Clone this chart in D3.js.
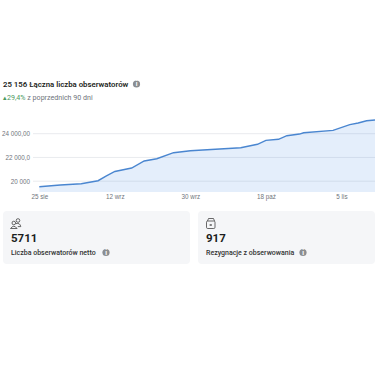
<!DOCTYPE html>
<html>
<head>
<meta charset="utf-8">
<style>
  html, body { margin: 0; padding: 0; background: #fff; }
  svg { display: block; font-family: Roboto, "Noto Sans", sans-serif; }
  .tick text { fill: #70757c; font-size: 6.3px; }
</style>
</head>
<body>
<div id="chart"></div>
<script src="https://cdn.jsdelivr.net/npm/d3@7"></script>
<script>
const dates = ['2023-08-25', '2023-08-30', '2023-09-04', '2023-09-08', '2023-09-10', '2023-09-12',
    '2023-09-16', '2023-09-19', '2023-09-22', '2023-09-26', '2023-09-30', '2023-10-04', '2023-10-07',
    '2023-10-12', '2023-10-16', '2023-10-18', '2023-10-21', '2023-10-23', '2023-10-26', '2023-10-27',
    '2023-11-03', '2023-11-07', '2023-11-09', '2023-11-11', '2023-11-13'];
const followers = [19537, 19680, 19790, 20040, 20440, 20820,
    21110, 21700, 21890, 22400, 22570, 22650, 22710,
    22820, 23110, 23440, 23530, 23830, 23970, 24080,
    24280, 24760, 24900, 25090, 25156];
const xTickDates = ['2023-08-25', '2023-09-12', '2023-09-30', '2023-10-18', '2023-11-05'];
const xTickLabels = ['25 sie', '12 wrz', '30 wrz', '18 paź', '5 lis'];
const yTicks = [20000, 22000, 24000];
const yTickLabels = ['20 000', '22 000,0', '24 000,00'];

const parseDate = d3.utcParse('%Y-%m-%d');
const dataset = dates.map((d, i) => ({ date: parseDate(d), value: followers[i] }));

const width = 375, height = 375;
const svg = d3.select('#chart').append('svg')
    .attr('width', width)
    .attr('height', height);

// Scales
const xScale = d3.scaleUtc()
    .domain(d3.extent(dataset, d => d.date))
    .range([39.3, 375]);
const yScale = d3.scaleLinear()
    .domain([20000, 24000])
    .range([181.2, 133.7]);
const baseline = 192;

// Axes
const yAxis = d3.axisLeft(yScale)
    .tickValues(yTicks)
    .tickSize(0)
    .tickPadding(3)
    .tickFormat((d, i) => yTickLabels[i]);
const yAxisGroup = svg.append('g')
    .attr('transform', 'translate(33, 0)')
    .call(yAxis);
yAxisGroup.select('.domain').remove();

svg.append('g').selectAll('line')
    .data(yTicks)
    .join('line')
    .attr('x1', 33)
    .attr('x2', width)
    .attr('y1', d => yScale(d))
    .attr('y2', d => yScale(d))
    .attr('stroke', '#e9ebee')
    .attr('stroke-width', 1);

const xAxis = d3.axisBottom(xScale)
    .tickValues(xTickDates.map(parseDate))
    .tickSize(0)
    .tickPadding(3)
    .tickFormat((d, i) => xTickLabels[i]);
const xAxisGroup = svg.append('g')
    .attr('transform', `translate(0, ${baseline})`)
    .call(xAxis);
xAxisGroup.select('.domain').remove();

// Area + line
const area = d3.area()
    .x(d => xScale(d.date))
    .y0(baseline)
    .y1(d => yScale(d.value));
svg.append('path')
    .datum(dataset)
    .attr('d', area)
    .attr('fill', '#4a90e2')
    .attr('fill-opacity', 0.15);

const line = d3.line()
    .x(d => xScale(d.date))
    .y(d => yScale(d.value));
svg.append('path')
    .datum(dataset)
    .attr('d', line)
    .attr('fill', 'none')
    .attr('stroke', '#4a86d0')
    .attr('stroke-width', 1.4);

// Header
const infoIcon = (x, y) => {
    svg.append('circle').attr('cx', x).attr('cy', y).attr('r', 3.6).attr('fill', '#8a8d91');
    svg.append('text').attr('x', x).attr('y', y + 2.3).attr('text-anchor', 'middle')
        .attr('font-size', 6.5).attr('font-weight', 700).attr('fill', '#fff').text('i');
};

svg.append('text')
    .attr('x', 3).attr('y', 87)
    .attr('font-size', 7.8).attr('font-weight', 600).attr('fill', '#1c1e21')
    .text('25 156 Łączna liczba obserwatorów');
infoIcon(136.5, 84);

const change = svg.append('text')
    .attr('x', 3).attr('y', 100)
    .attr('font-size', 7.1).attr('fill', '#70757c');
change.append('tspan').attr('fill', '#4c9a5f').text('▴29,4%');
change.append('tspan').text(' z poprzednich 90 dni');

// Cards
const cards = [
    { x: 3, w: 187, value: '5711', label: 'Liczba obserwatorów netto', info: 106, icon: 'people' },
    { x: 198, w: 177, value: '917', label: 'Rezygnacje z obserwowania', info: 303, icon: 'box' }
];

cards.forEach(c => {
    const g = svg.append('g');
    g.append('rect')
        .attr('x', c.x).attr('y', 211).attr('width', c.w).attr('height', 53)
        .attr('rx', 4).attr('fill', '#f5f6f8');
    const tx = c.x + 8;
    g.append('text').attr('x', tx).attr('y', 242)
        .attr('font-size', 11.5).attr('font-weight', 700).attr('fill', '#1c1e21').text(c.value);
    g.append('text').attr('x', tx).attr('y', 255)
        .attr('font-size', 7).attr('font-weight', 500).attr('fill', '#333').text(c.label);
    infoIcon(c.info, 252.5);

    const ic = g.append('g')
        .attr('fill', 'none').attr('stroke', '#444').attr('stroke-width', 0.8);
    if (c.icon === 'people') {
        ic.append('circle').attr('cx', tx + 7).attr('cy', 220.5).attr('r', 1.8);
        ic.append('circle').attr('cx', tx + 2.8).attr('cy', 223).attr('r', 1.8);
        ic.append('path').attr('d', `M${tx - 0.5} 228.5 q3.3 -4.5 6.6 0 z`);
        ic.append('path').attr('d', `M${tx + 5} 223.6 q4 -1 4.8 3 h-3`);
    } else {
        ic.append('rect').attr('x', tx + 0.5).attr('y', 221).attr('width', 8.5).attr('height', 7.5).attr('rx', 1.2);
        ic.append('path').attr('d', `M${tx + 1.5} 221 l1 -2.5 h5 l1 2.5`);
        ic.append('path').attr('d', `M${tx + 3.7} 224 l2 2 m0 -2 l-2 2`);
    }
});
</script>
</body>
</html>
